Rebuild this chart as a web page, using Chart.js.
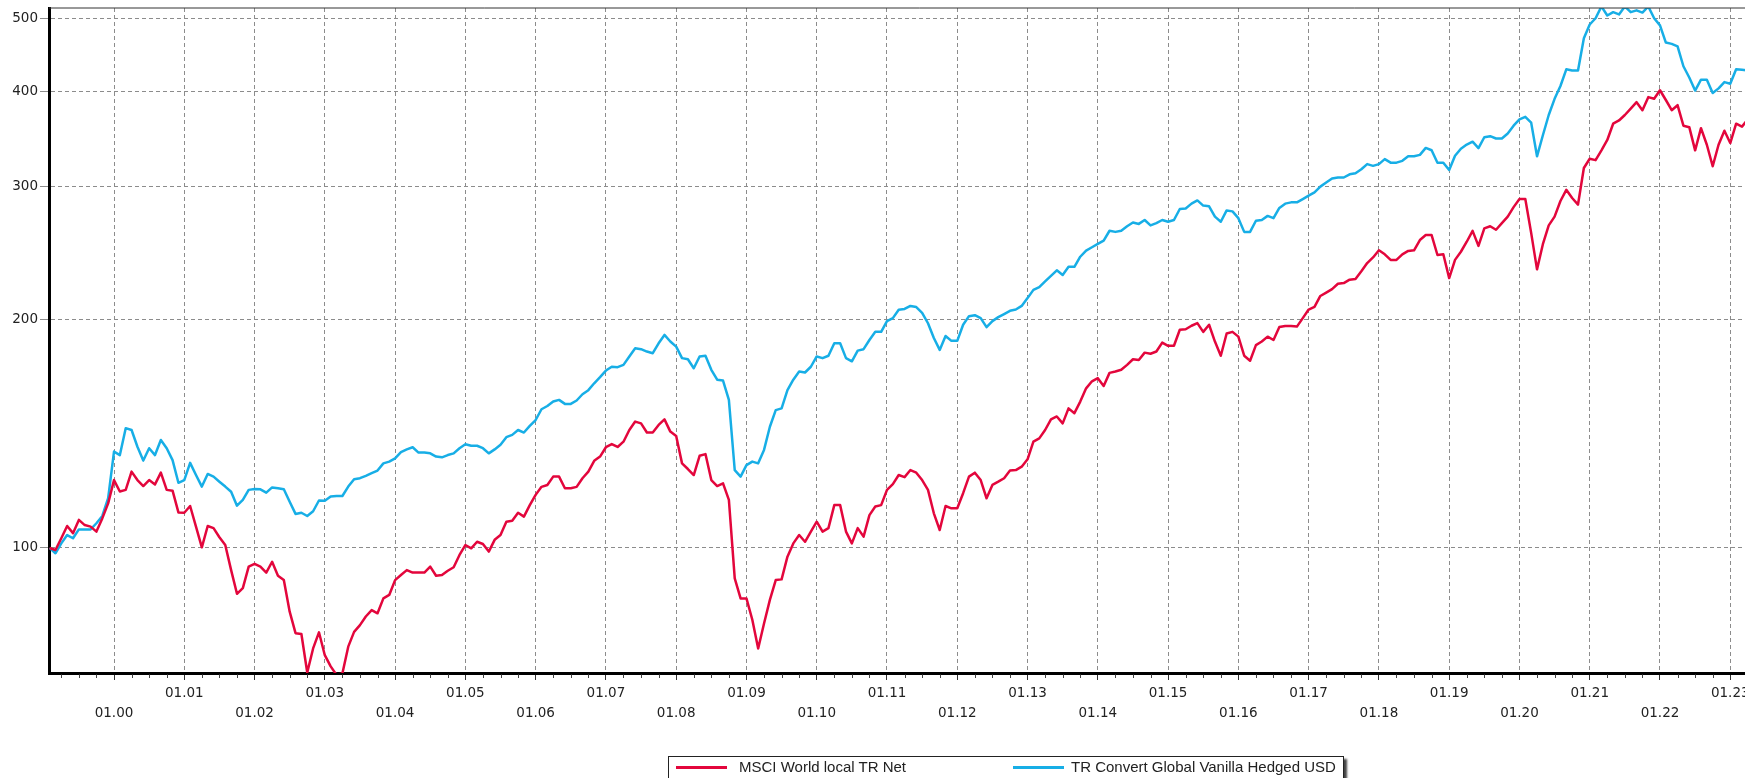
<!DOCTYPE html>
<html>
<head>
<meta charset="utf-8">
<title>MSCI World local TR Net vs TR Convert Global Vanilla Hedged USD</title>
<script src="https://cdn.jsdelivr.net/npm/chart.js@4.4.1/dist/chart.umd.min.js"></script>
<style>
  html, body { margin: 0; padding: 0; background: #fff; }
  #wrap { position: relative; width: 1745px; height: 778px; overflow: hidden; }
  #chart { position: absolute; left: 0; top: 0; }
  .legend {
    position: absolute; left: 668px; top: 756px; width: 674px; height: 40px;
    border: 1px solid #222; box-shadow: 3px 3px 2px #444; background: #fff;
    font: 15px 'Liberation Sans', Arial, sans-serif; color: #222;
  }
  .legend span { position: absolute; white-space: nowrap; }
  .legend .swatch { top: 9px; width: 51px; height: 3px; }
  .legend .label { top: 1px; line-height: 17px; }
</style>
</head>
<body>
<div id="wrap">
  <canvas id="chart" width="1790" height="778"></canvas>
  <div class="legend" id="legend"></div>
</div>
<script>
// Index levels, monthly, first point Feb 1999 = 100
const startYear = 1999;
const startMonth = 2;

const msciWorld = [
  100.0, 99.4, 103.0, 106.9, 104.6, 108.9, 107.2, 106.7, 105.1, 109.4, 114.5,
  122.9, 118.7, 119.3, 126.1, 122.9, 120.7, 122.9, 121.3, 125.7, 119.3, 119.0, 111.4,
  111.3, 113.6, 106.7, 100.2, 106.9, 106.2, 103.3, 100.9, 93.5, 87.0, 88.5, 94.5,
  95.3, 94.5, 92.8, 95.9, 91.9, 90.7, 82.4, 77.2, 77.0, 68.5, 73.7, 77.4,
  72.2, 69.8, 68.0, 68.3, 74.1, 77.5, 79.1, 81.2, 82.8, 82.0, 85.8, 86.7,
  90.7, 92.1, 93.5, 92.8, 92.8, 92.8, 94.5, 91.9, 92.1, 93.3, 94.3, 97.9,
  100.9, 99.9, 101.9, 101.2, 98.9, 102.5, 104.0, 108.3, 108.6, 111.3, 110.0, 113.9,
  117.5, 120.4, 121.1, 124.2, 124.2, 119.9, 119.9, 120.4, 123.6, 126.1, 130.3, 132.0,
  135.8, 137.1, 135.9, 138.1, 143.1, 146.8, 146.0, 142.0, 142.0, 145.3, 147.8, 142.4,
  140.5, 129.3, 127.1, 124.8, 132.3, 133.0, 122.9, 120.7, 121.7, 115.7, 91.2, 85.8,
  85.8, 80.4, 73.7, 79.5, 85.4, 90.7, 90.9, 97.4, 101.4, 104.0, 101.9, 105.1,
  108.3, 105.1, 106.2, 113.9, 113.9, 105.1, 101.4, 106.2, 103.5, 110.5, 113.4, 113.9,
  119.3, 121.4, 124.8, 124.0, 126.7, 125.7, 122.9, 119.3, 111.1, 105.6, 113.6, 112.8,
  112.8, 118.1, 124.2, 125.7, 122.9, 116.3, 121.1, 122.3, 123.6, 126.5, 126.7, 128.0,
  130.9, 138.1, 139.5, 143.1, 147.8, 149.1, 146.0, 152.8, 150.6, 156.0, 162.4, 165.9,
  167.5, 163.6, 170.2, 170.9, 171.8, 174.4, 177.4, 177.0, 181.0, 180.4, 181.6, 186.6,
  184.8, 184.8, 194.0, 194.3, 196.4, 198.0, 192.8, 197.0, 187.2, 179.3, 191.8, 192.8,
  190.0, 179.3, 176.6, 185.2, 187.2, 190.0, 188.1, 195.6, 196.3, 196.3, 195.9, 201.0,
  206.3, 208.0, 215.0, 217.2, 219.5, 223.1, 223.6, 225.9, 226.4, 231.7, 237.6, 241.7,
  247.0, 244.0, 239.9, 239.9, 244.0, 246.5, 247.0, 254.8, 258.7, 258.7, 243.5, 244.0,
  227.0, 239.9, 245.9, 253.5, 262.0, 250.3, 264.0, 265.7, 262.9, 268.2, 273.6, 281.6,
  288.6, 288.6, 260.4, 233.1, 251.6, 266.4, 273.6, 286.9, 296.8, 289.5, 283.8, 317.1,
  326.2, 324.8, 334.6, 345.3, 362.8, 366.4, 372.5, 379.8, 387.3, 378.0, 393.3, 391.3,
  401.6, 389.9, 378.0, 383.8, 360.6, 359.0, 334.6, 357.9, 340.3, 318.8, 340.3, 355.2,
  342.1, 362.8, 359.6, 367.6
];

const trConvert = [
  100.0, 98.4, 101.4, 104.0, 103.0, 105.8, 105.8, 105.8, 107.8, 110.2, 116.3,
  134.0, 132.6, 143.9, 143.1, 136.0, 130.4, 135.4, 132.6, 138.8, 135.4, 130.6, 121.9,
  122.9, 129.5, 124.8, 120.5, 125.2, 124.2, 122.3, 120.5, 118.6, 113.7, 115.7, 119.3,
  119.6, 119.5, 118.3, 120.2, 119.9, 119.5, 115.1, 110.9, 111.3, 110.2, 111.8, 115.5,
  115.4, 116.9, 117.1, 117.1, 120.5, 123.2, 123.6, 124.5, 125.5, 126.5, 129.3, 130.0,
  131.3, 133.8, 134.9, 135.8, 133.6, 133.6, 133.3, 132.0, 131.7, 132.6, 133.3, 135.4,
  137.0, 136.4, 136.4, 135.4, 133.3, 134.9, 136.8, 140.0, 141.0, 143.1, 142.0, 144.9,
  147.5, 152.4, 153.9, 156.0, 156.8, 154.9, 154.9, 156.5, 159.5, 161.5, 164.9, 168.0,
  171.4, 173.4, 173.2, 174.4, 178.9, 183.4, 182.9, 181.6, 180.7, 186.2, 191.0, 187.2,
  184.3, 178.0, 177.4, 172.6, 178.9, 179.3, 171.8, 166.7, 166.3, 156.8, 126.7, 124.2,
  128.6, 130.0, 129.3, 134.7, 144.5, 152.0, 152.8, 161.5, 166.7, 170.9, 170.4, 173.4,
  178.9, 178.0, 179.3, 186.2, 186.2, 178.0, 176.3, 182.1, 182.9, 188.1, 192.8, 192.8,
  199.2, 201.0, 206.2, 206.7, 208.6, 207.9, 204.3, 197.9, 189.2, 182.5, 190.4, 187.6,
  187.6, 197.0, 202.2, 202.8, 201.0, 195.6, 199.2, 201.6, 203.5, 205.5, 206.3, 208.6,
  213.6, 219.0, 220.9, 224.7, 228.5, 232.4, 229.2, 234.9, 234.9, 242.2, 246.8, 249.3,
  251.8, 254.3, 262.1, 261.2, 262.1, 265.7, 268.7, 267.6, 270.8, 266.4, 268.2, 270.8,
  269.4, 270.8, 280.0, 280.5, 284.6, 287.4, 282.9, 282.3, 273.6, 269.4, 278.8, 278.0,
  272.3, 261.2, 261.2, 270.2, 270.8, 274.2, 272.3, 280.9, 284.6, 285.7, 285.7, 288.6,
  291.6, 294.5, 299.7, 303.4, 307.2, 308.1, 308.1, 311.1, 312.1, 315.9, 320.9, 319.2,
  320.9, 325.8, 322.3, 322.3, 324.1, 328.6, 328.6, 330.0, 337.1, 334.7, 322.3, 322.3,
  315.2, 329.2, 336.3, 340.5, 343.5, 336.9, 348.2, 349.3, 346.9, 346.9, 352.2, 360.6,
  367.6, 370.5, 364.0, 328.6, 350.3, 372.5, 391.3, 406.8, 428.0, 426.5, 426.5, 470.3,
  490.4, 499.8, 518.0, 504.0, 509.1, 505.7, 518.0, 509.1, 511.9, 508.5, 518.0, 499.8,
  489.1, 464.2, 462.4, 459.0, 432.0, 417.5, 401.2, 414.7, 414.7, 398.2, 403.9, 411.7,
  409.7, 428.0, 427.3, 426.6
];

const seriesNames = ['MSCI World local TR Net', 'TR Convert Global Vanilla Hedged USD'];
const seriesColors = ['#e3063c', '#17aee6'];
const yTicks = [100, 200, 300, 400, 500];

// axis ranges
const xMin = 1999.075, xMax = 2023.85;
const yMin = 68.4, yMax = 515.6;

const labelFont = { family: "'DejaVu Sans', sans-serif", size: 13.5 };

function isYear(v) {
  return Math.abs(v - Math.round(v)) < 1e-6;
}

function toPoints(values) {
  return values.map((v, i) => ({ x: startYear + (startMonth - 1 + i) / 12, y: v }));
}

// thin frame on top and short quarter ticks under the x axis
const frameAndTicks = {
  id: 'frameAndTicks',
  afterDatasetsDraw(chart) {
    const { ctx, chartArea: a } = chart;
    ctx.save();
    ctx.strokeStyle = '#333';
    ctx.lineWidth = 1;
    ctx.beginPath();
    ctx.moveTo(a.left, a.top);
    ctx.lineTo(a.right, a.top);
    ctx.stroke();
    ctx.restore();
  },
  afterDraw(chart) {
    const { ctx, chartArea: a } = chart;
    const x = chart.scales.x;
    ctx.save();
    ctx.strokeStyle = '#444';
    ctx.lineWidth = 1;
    x.ticks.forEach(t => {
      if (isYear(t.value)) return;
      const px = Math.round(x.getPixelForValue(t.value)) + 0.5;
      ctx.beginPath();
      ctx.moveTo(px, a.bottom + 1.5);
      ctx.lineTo(px, a.bottom + 5);
      ctx.stroke();
    });
    ctx.restore();
  }
};

new Chart(document.getElementById('chart'), {
  type: 'line',
  data: {
    datasets: [
      { label: seriesNames[0], data: toPoints(msciWorld), borderColor: seriesColors[0] },
      { label: seriesNames[1], data: toPoints(trConvert), borderColor: seriesColors[1] }
    ]
  },
  options: {
    responsive: false,
    animation: false,
    devicePixelRatio: 1,
    layout: { padding: { top: 8, left: 0, right: 0, bottom: 0 } },
    elements: {
      line: { borderWidth: 2.5, tension: 0, fill: false, borderJoinStyle: 'round' },
      point: { radius: 0 }
    },
    plugins: { legend: { display: false }, tooltip: { enabled: false } },
    scales: {
      x: {
        type: 'linear',
        min: xMin,
        max: xMax,
        afterBuildTicks(scale) {
          const ticks = [];
          for (let q = Math.ceil(xMin * 4); q <= Math.floor(xMax * 4); q++) ticks.push({ value: q / 4 });
          scale.ticks = ticks;
        },
        afterFit(scale) {
          scale.height = 105;
          scale.paddingLeft = 0;
          scale.paddingRight = 0;
        },
        ticks: {
          autoSkip: false,
          maxRotation: 0,
          minRotation: 0,
          padding: 3,
          color: '#222',
          font: { family: labelFont.family, size: labelFont.size, lineHeight: '20px' },
          callback(value) {
            if (!isYear(value)) return '';
            const yr = Math.round(value);
            const text = '01.' + String(yr % 100).padStart(2, '0');
            return yr % 2 ? [text] : ['', text];
          }
        },
        grid: {
          color: ctx => (ctx.tick && isYear(ctx.tick.value)) ? '#8c8c8c' : 'rgba(0,0,0,0)',
          tickColor: ctx => (ctx.tick && isYear(ctx.tick.value)) ? '#333' : 'rgba(0,0,0,0)',
          lineWidth: 1,
          tickLength: 7
        },
        border: { display: true, color: '#000', width: 3, dash: [4, 3] }
      },
      y: {
        type: 'logarithmic',
        min: yMin,
        max: yMax,
        afterBuildTicks(scale) {
          scale.ticks = yTicks.map(v => ({ value: v }));
        },
        afterFit(scale) {
          scale.width = 49;
          scale.paddingTop = 0;
          scale.paddingBottom = 0;
        },
        ticks: {
          padding: 2,
          color: '#222',
          font: labelFont,
          callback: value => String(value)
        },
        grid: {
          color: '#8c8c8c',
          tickColor: '#8c8c8c',
          lineWidth: 1,
          tickLength: 9
        },
        border: { display: true, color: '#000', width: 3, dash: [4, 3] }
      }
    }
  },
  plugins: [frameAndTicks]
});

// legend box below the plot
const legend = document.getElementById('legend');
const legendSpots = [[7, 70], [344, 402]];
seriesNames.forEach((name, i) => {
  legend.insertAdjacentHTML('beforeend',
    `<span class="swatch" style="left:${legendSpots[i][0]}px;background:${seriesColors[i]}"></span>` +
    `<span class="label" style="left:${legendSpots[i][1]}px">${name}</span>`);
});
</script>
</body>
</html>
